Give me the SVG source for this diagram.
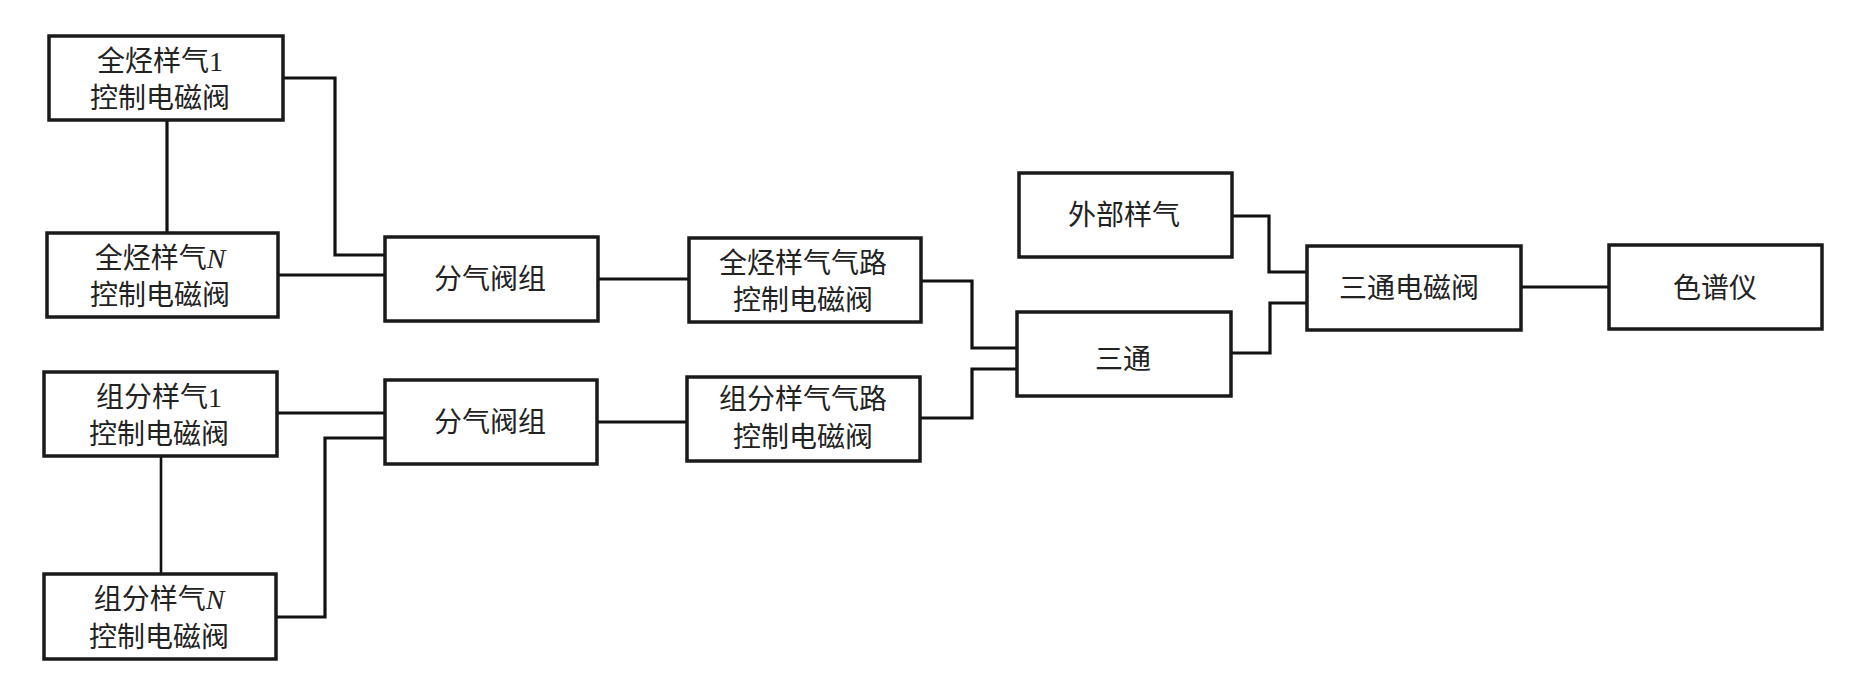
<svg xmlns="http://www.w3.org/2000/svg" width="1866" height="694" viewBox="0 0 1866 694">
<style>
.box{fill:#fff;stroke:#1a1a1a;stroke-width:3.5}
.ln{fill:none;stroke:#111;stroke-width:3.2}
.thin{fill:none;stroke:#111;stroke-width:2.6}
text{font-family:"Liberation Serif","Noto Sans CJK SC",serif;font-size:28px;fill:#222;text-anchor:middle}
</style>
<rect width="1866" height="694" fill="#fff"/>
<g id="connectors">
<line class="ln" x1="167" y1="120" x2="167" y2="233"/>
<polyline class="ln" points="283,78 335,78 335,255 385,255"/>
<line class="ln" x1="278" y1="275" x2="385" y2="275"/>
<line class="thin" x1="161" y1="456" x2="161" y2="574"/>
<line class="ln" x1="277" y1="413" x2="385" y2="413"/>
<polyline class="ln" points="276,617 325,617 325,438 385,438"/>
<line class="ln" x1="598" y1="279" x2="689" y2="279"/>
<line class="ln" x1="597" y1="422" x2="687" y2="422"/>
<polyline class="ln" points="921,281 972,281 972,348 1017,348"/>
<polyline class="ln" points="920,418 972,418 972,369 1017,369"/>
<polyline class="ln" points="1232,216 1269,216 1269,272 1307,272"/>
<polyline class="ln" points="1231,353 1270,353 1270,303 1307,303"/>
<line class="ln" x1="1521" y1="287" x2="1609" y2="287"/>
</g>
<g id="n1"><rect class="box" x="49" y="36" width="234" height="84"/><text x="160" y="71">全烃样气1</text><text x="160" y="108">控制电磁阀</text></g>
<g id="n2"><rect class="box" x="47" y="233" width="231" height="84"/><text x="160" y="268">全烃样气<tspan font-style="italic">N</tspan></text><text x="160" y="305">控制电磁阀</text></g>
<g id="n3"><rect class="box" x="385" y="237" width="213" height="84"/><text x="490" y="289">分气阀组</text></g>
<g id="n4"><rect class="box" x="44" y="372" width="233" height="84"/><text x="159" y="407">组分样气1</text><text x="159" y="444">控制电磁阀</text></g>
<g id="n5"><rect class="box" x="44" y="574" width="232" height="85"/><text x="159" y="609">组分样气<tspan font-style="italic">N</tspan></text><text x="159" y="647">控制电磁阀</text></g>
<g id="n6"><rect class="box" x="385" y="380" width="212" height="84"/><text x="490" y="432">分气阀组</text></g>
<g id="n7"><rect class="box" x="689" y="238" width="232" height="84"/><text x="803" y="273">全烃样气气路</text><text x="803" y="310">控制电磁阀</text></g>
<g id="n8"><rect class="box" x="687" y="377" width="233" height="84"/><text x="803" y="409">组分样气气路</text><text x="803" y="447">控制电磁阀</text></g>
<g id="n9"><rect class="box" x="1019" y="173" width="213" height="84"/><text x="1124" y="225">外部样气</text></g>
<g id="n10"><rect class="box" x="1017" y="312" width="214" height="84"/><text x="1123" y="369">三通</text></g>
<g id="n11"><rect class="box" x="1307" y="246" width="214" height="84"/><text x="1409" y="298">三通电磁阀</text></g>
<g id="n12"><rect class="box" x="1609" y="245" width="213" height="84"/><text x="1715" y="298">色谱仪</text></g>
</svg>
